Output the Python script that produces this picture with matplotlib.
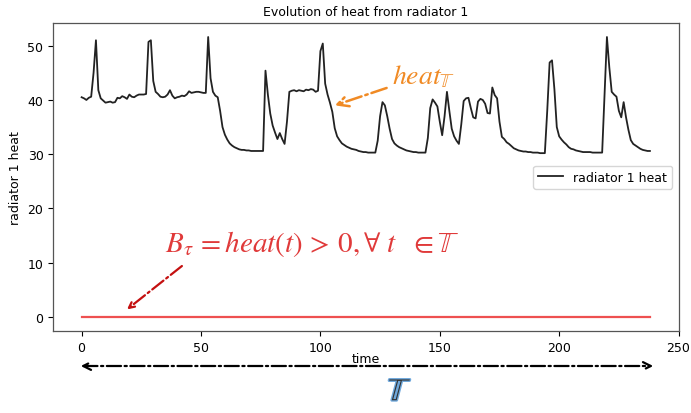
import matplotlib.pyplot as plt
import matplotlib.patheffects as pe
import numpy as np

plt.rcParams['mathtext.fontset'] = 'stix'

# radiator 1 heat, one sample per time step (0..238)
heat = [
    40.5, 40.3, 40.0, 40.4, 40.6, 45.0, 51.0, 41.8, 40.3, 39.9,
    39.5, 39.6, 39.7, 39.5, 39.6, 40.4, 40.3, 40.7, 40.5, 40.2,
    41.0, 40.6, 40.5, 40.8, 41.0, 41.0, 41.0, 41.1, 50.7, 51.0,
    43.5, 41.5, 41.1, 40.6, 40.5, 40.6, 41.0, 41.8, 40.8, 40.3,
    40.5, 40.6, 40.8, 40.7, 41.0, 41.6, 41.3, 41.4, 41.5, 41.5,
    41.4, 41.3, 41.3, 51.6, 44.0, 41.5, 40.8, 40.5, 38.0, 35.0,
    33.6, 32.7, 32.0, 31.6, 31.3, 31.1, 30.9, 30.8, 30.8, 30.7,
    30.7, 30.6, 30.6, 30.6, 30.6, 30.6, 30.6, 45.4, 41.0, 37.5,
    35.3, 34.0, 32.8, 33.9, 32.8, 31.9, 36.0, 41.5, 41.7, 41.8,
    41.6, 41.8, 41.7, 41.6, 41.9, 41.8, 42.0, 41.9, 41.5, 41.7,
    49.0, 50.4, 43.0, 41.0, 39.5, 37.8, 34.8, 33.3, 32.6, 32.0,
    31.7, 31.4, 31.2, 31.0, 30.9, 30.8, 30.6, 30.5, 30.4, 30.4,
    30.3, 30.3, 30.3, 30.3, 32.5, 37.0, 39.6, 39.0, 37.0, 34.7,
    32.8, 32.0, 31.6, 31.3, 31.1, 30.9, 30.7, 30.6, 30.5, 30.4,
    30.4, 30.3, 30.3, 30.3, 30.3, 33.0, 38.5, 40.1, 39.5, 38.8,
    36.0, 33.5, 37.0, 41.5, 38.0, 34.7, 33.3, 32.5, 31.9, 35.5,
    39.8, 40.3, 40.4, 38.5, 36.8, 36.6, 39.7, 40.2, 40.0, 39.3,
    37.6, 37.5, 42.3, 40.9, 40.3, 36.0, 33.2, 32.8, 32.2, 31.9,
    31.5, 31.1, 30.9, 30.7, 30.6, 30.5, 30.5, 30.4, 30.4, 30.3,
    30.3, 30.3, 30.2, 30.2, 30.2, 38.0, 46.9, 47.3, 42.0, 35.0,
    33.3, 32.7, 32.2, 31.8, 31.3, 31.0, 30.9, 30.7, 30.6, 30.5,
    30.4, 30.4, 30.4, 30.4, 30.3, 30.3, 30.3, 30.3, 30.3, 41.0,
    51.6, 46.0, 41.5, 41.0, 40.6, 38.0, 36.8, 39.6, 36.8, 34.5,
    32.6, 31.9, 31.6, 31.3, 31.0, 30.8, 30.7, 30.6, 30.6,
]
time = np.arange(len(heat))
baseline = [0] * len(heat)

fig = plt.figure(figsize=(6.91, 4.14), dpi=100)
ax = fig.add_axes([0.077, 0.198, 0.905, 0.744])

ax.plot(time, heat, color='#222222', lw=1.3, label='radiator 1 heat')
ax.plot(time, baseline, color='#ee5050', lw=1.6)

ax.set_title('Evolution of heat from radiator 1', fontsize=9)
ax.set_xlabel('time', fontsize=9, labelpad=-1)
ax.set_ylabel('radiator 1 heat', fontsize=9)
ax.tick_params(labelsize=9)
ax.set_xticks([0, 50, 100, 150, 200, 250])
for s in ax.spines.values():
    s.set_color('#555555')
    s.set_linewidth(0.9)

ax.legend(loc='center right', fontsize=9, frameon=True)

# annotation: heat_T pointing at the curve
ax.annotate(r'$heat_{\mathbb{T}}$', xy=(106, 39.0), xytext=(130, 44.5),
            fontsize=20, color='#f08a24', va='center', ha='left',
            arrowprops=dict(arrowstyle='->', color='#f08a24', lw=1.8,
                            linestyle='-.', shrinkA=2, shrinkB=0))

# annotation: B_tau formula pointing at the zero line
ax.text(35, 13.6, r'$B_{\tau}\, = heat(t)\, >\, 0, \forall\ t\ \ \in \mathbb{T}$',
        fontsize=21, color='#e03a3a', va='center', ha='left')
ax.annotate('', xy=(19, 1.4), xytext=(42, 9.4),
            arrowprops=dict(arrowstyle='->', color='#c41010', lw=1.6,
                            linestyle='-.', shrinkA=0, shrinkB=0))

# time span arrow and T symbol under the axes
fig.patches.append(plt.matplotlib.patches.FancyArrowPatch(
    (78 / 691, 1 - 367 / 414), (656 / 691, 1 - 367 / 414),
    transform=fig.transFigure, arrowstyle='<->', mutation_scale=14,
    color='black', lw=1.6, linestyle='-.'))
fig.text(400 / 691, 1 - 393 / 414, r'$\mathbb{T}$', fontsize=23, color='#333333',
         ha='center', va='center',
         path_effects=[pe.withStroke(linewidth=2, foreground='#6fa8dc')])

fig.savefig('out.png', dpi=100)
